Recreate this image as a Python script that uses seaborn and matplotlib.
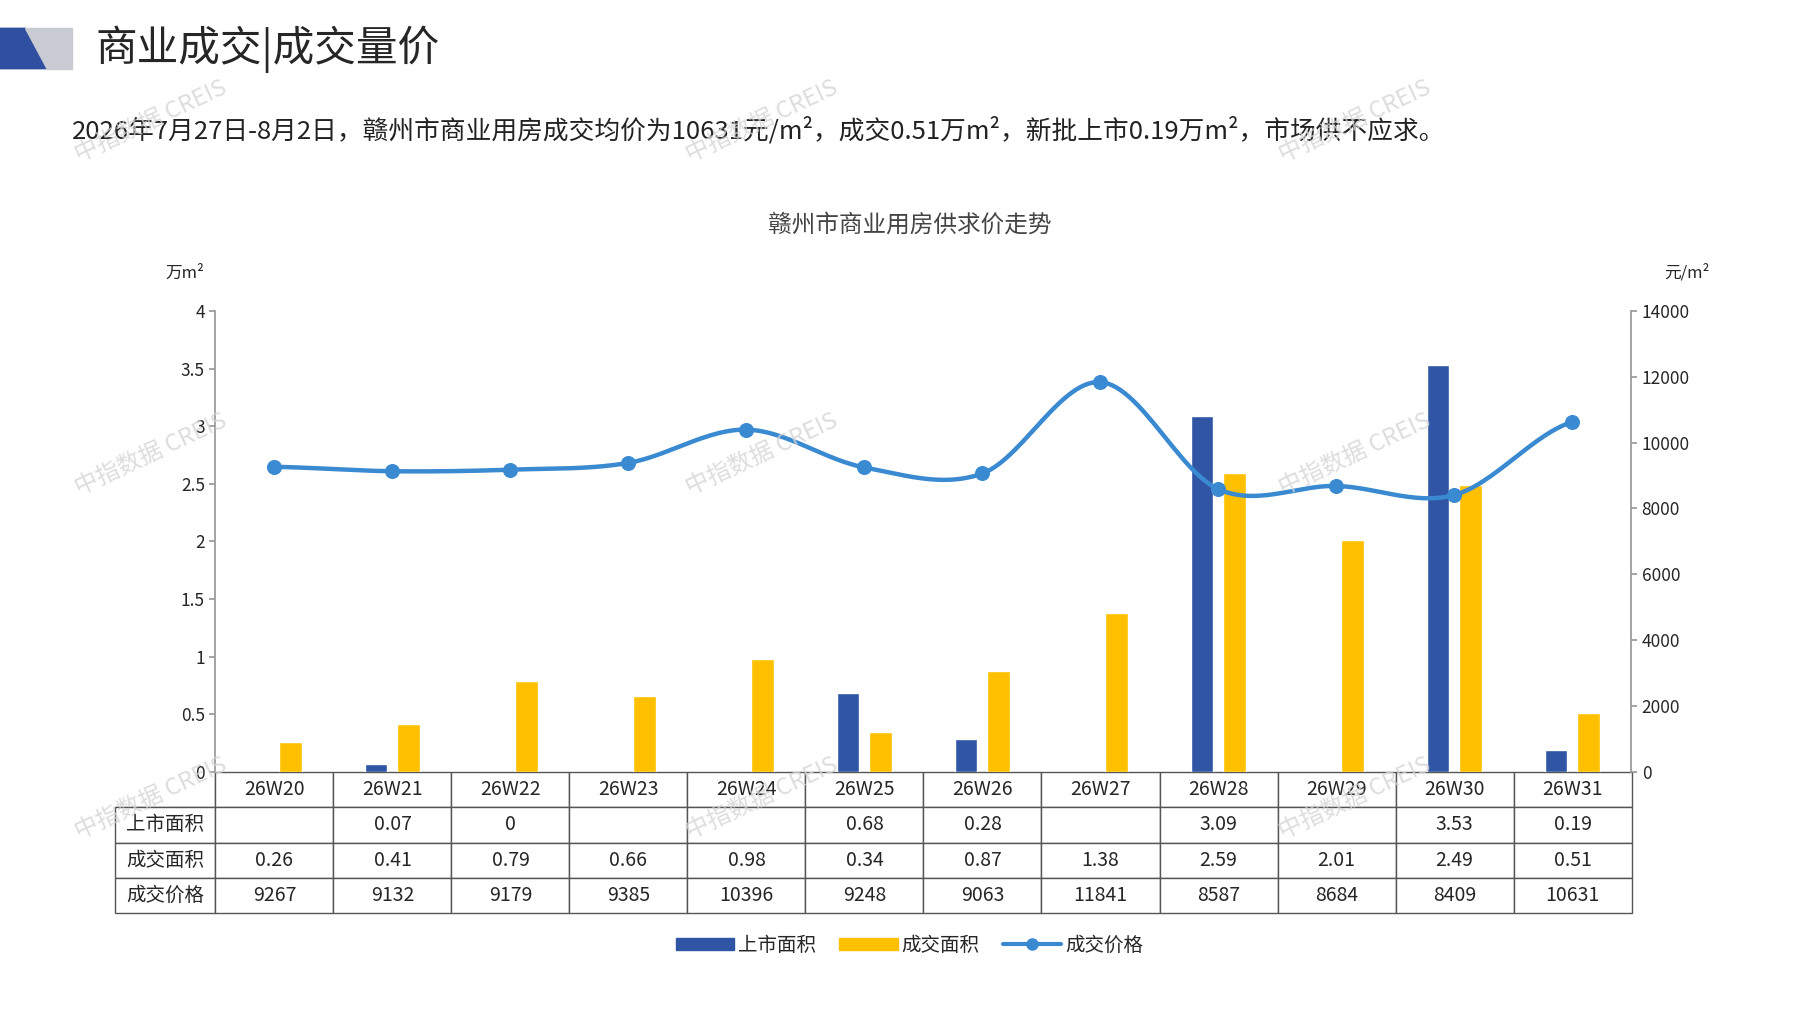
import matplotlib
matplotlib.use("Agg")
import matplotlib.pyplot as plt
import numpy as np
import pandas as pd
import seaborn as sns
from matplotlib.patches import Polygon
from matplotlib.lines import Line2D
from matplotlib.patches import Patch

weeks = ["26W20", "26W21", "26W22", "26W23", "26W24", "26W25", "26W26", "26W27", "26W28", "26W29", "26W30", "26W31"]
supply = [np.nan, 0.07, 0, np.nan, np.nan, 0.68, 0.28, np.nan, 3.09, np.nan, 3.53, 0.19]
deal = [0.26, 0.41, 0.79, 0.66, 0.98, 0.34, 0.87, 1.38, 2.59, 2.01, 2.49, 0.51]
price = [9267, 9132, 9179, 9385, 10396, 9248, 9063, 11841, 8587, 8684, 8409, 10631]

BLUE = "#2F55A4"
YELLOW = "#FFC000"
LINE = "#3A8AD2"

sns.set_theme(style="white")
plt.rcParams['font.family'] = ['Noto Sans CJK SC', 'DejaVu Sans']

fig = plt.figure(figsize=(17.97, 10.10), dpi=100)
ax = fig.add_axes([0.1198, 0.236, 0.788, 0.456])

df = pd.DataFrame({
    "week": weeks * 2,
    "val": supply + deal,
    "series": ["上市面积"] * 12 + ["成交面积"] * 12,
})
sns.barplot(data=df, x="week", y="val", hue="series", palette=[BLUE, YELLOW],
            width=0.55, gap=0.3, saturation=1, ax=ax, legend=False)
ax.set_xlim(-0.5, 11.5)
ax.set_ylim(0, 4)
ax.set_yticks([0, 0.5, 1, 1.5, 2, 2.5, 3, 3.5, 4])
ax.set_yticklabels(["0", "0.5", "1", "1.5", "2", "2.5", "3", "3.5", "4"], fontsize=12.5)
ax.set_xticks([])
ax.set_xlabel("")
ax.set_ylabel("")
for s in ["top", "right", "bottom"]:
    ax.spines[s].set_visible(False)
ax.spines["left"].set_color("#999999")
ax.tick_params(axis="y", length=4, color="#999999", left=True)

ax2 = ax.twinx()
x = np.arange(12)
p = np.array(price, dtype=float)
# smooth Catmull-Rom curve through the points
xs, ys = [], []
pp = np.concatenate([[p[0]], p, [p[-1]]])
for i in range(11):
    p0, p1, p2, p3 = pp[i], pp[i + 1], pp[i + 2], pp[i + 3]
    t = np.linspace(0, 1, 30)
    yy = 0.5 * (2 * p1 + (-p0 + p2) * t + (2 * p0 - 5 * p1 + 4 * p2 - p3) * t ** 2 + (-p0 + 3 * p1 - 3 * p2 + p3) * t ** 3)
    xs.extend(i + t)
    ys.extend(yy)
ax2.plot(xs, ys, color=LINE, lw=3.2)
sns.scatterplot(x=x, y=p, color=LINE, s=100, edgecolor=LINE, zorder=5, ax=ax2)
ax2.set_ylim(0, 14000)
ax2.set_yticks(range(0, 14001, 2000))
ax2.set_yticklabels([str(v) for v in range(0, 14001, 2000)], fontsize=12.5)
for s in ["top", "left", "bottom"]:
    ax2.spines[s].set_visible(False)
ax2.spines["right"].set_color("#999999")
ax2.tick_params(axis="y", length=4, color="#999999", right=True)
ax2.set_xlim(-0.5, 11.5)

fig.text(0.092, 0.725, "万m²", fontsize=12)
fig.text(0.926, 0.725, "元/m²", fontsize=12)

# data table
fmt = lambda v: "" if np.isnan(v) else f"{v:g}"
cells = [[""] + weeks,
         ["上市面积"] + [fmt(v) for v in supply],
         ["成交面积"] + [fmt(v) for v in deal],
         ["成交价格"] + [str(v) for v in price]]
tw = 1325 / 1237
first = 88 / 1325
colw = [first * tw] + [(1 - first) * tw / 12] * 12
tab = ax.table(cellText=cells, colWidths=colw, cellLoc="center",
               bbox=[-0.071, -0.308, tw, 0.308])
tab.auto_set_font_size(False)
tab.set_fontsize(14)
for (r, c), cell in tab.get_celld().items():
    cell.set_edgecolor("#555555")
    cell.set_linewidth(1)
    if r == 0 and c == 0:
        cell.visible_edges = "BR"

# header
fig.patches.append(Polygon([[0, 0.932], [0.026, 0.932], [0.014, 0.972], [0, 0.972]], closed=True,
                           transform=fig.transFigure, color="#2F4FA0"))
fig.patches.append(Polygon([[0.014, 0.972], [0.04, 0.972], [0.04, 0.932], [0.026, 0.932]], closed=True,
                           transform=fig.transFigure, color="#C8CBD2"))
fig.text(0.053, 0.951, "商业成交|成交量价", fontsize=30, va="center")
fig.text(0.04, 0.871, "2026年7月27日-8月2日，赣州市商业用房成交均价为10631元/m²，成交0.51万m²，新批上市0.19万m²，市场供不应求。",
         fontsize=18.5, va="center", color="#222222")
fig.text(0.506, 0.777, "赣州市商业用房供求价走势", fontsize=17, ha="center", va="center", color="#444444")

# watermarks
for wx in [0.04, 0.38, 0.71]:
    for wy in [0.84, 0.51, 0.17]:
        fig.text(wx, wy, "中指数据 CREIS", fontsize=17, rotation=25, color="#D5D5D5", alpha=0.8)

handles = [Patch(color=BLUE, label="上市面积"), Patch(color=YELLOW, label="成交面积"),
           Line2D([0], [0], color=LINE, lw=3, marker="o", ms=8, label="成交价格")]
fig.legend(handles=handles, loc="center", bbox_to_anchor=(0.506, 0.064), ncol=3, frameon=False,
           fontsize=14, handlelength=3, handleheight=0.6, columnspacing=1.2, handletextpad=0.2)

fig.savefig("out.png", dpi=100, facecolor="white")
